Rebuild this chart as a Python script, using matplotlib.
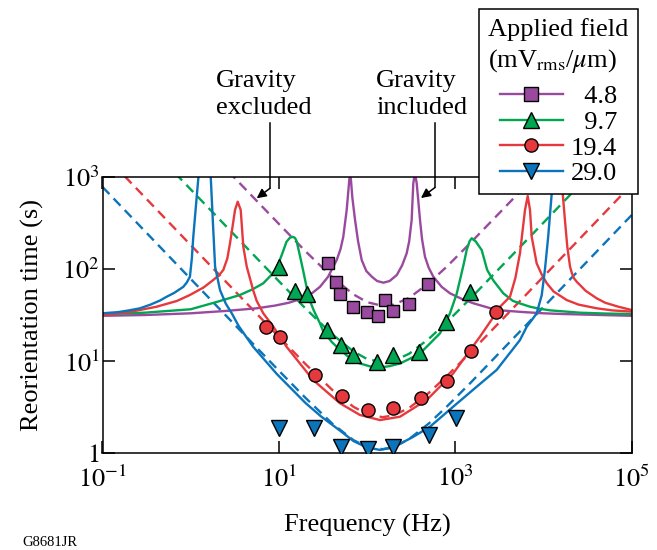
import matplotlib
matplotlib.use("Agg")
import matplotlib.pyplot as plt
from matplotlib.lines import Line2D
from matplotlib.ticker import NullLocator

plt.rcParams['font.family'] = ['Liberation Serif', 'DejaVu Serif']
plt.rcParams['mathtext.fontset'] = 'stix'

# ---- applied field series ----
fields = ["4.8", "9.7", "19.4", "29.0"]
colors = ["#9A4A9E", "#00A651", "#E6393D", "#0B74BB"]
markers = ["s", "^", "o", "v"]

# ---- measured reorientation times ----
sq_f = [35.7, 44.4, 49.3, 68.7, 98.9, 132, 161, 198, 296, 494]
sq_t = [115, 71.7, 53.1, 38.9, 33.8, 31.1, 46, 35.2, 41.6, 68.7]
tri_f = [10, 15.2, 20.6, 35.4, 50.6, 69.8, 128.5, 195, 387, 785, 1468]
tri_t = [106, 58.1, 53.1, 21.7, 15.0, 11.5, 9.68, 11.6, 12.6, 26.7, 56.6]
circ_f = [7.14, 10.3, 25.7, 52.4, 103, 195, 408, 798, 1496, 2891]
circ_t = [23.6, 18.1, 7.05, 4.2, 2.91, 3.1, 3.99, 6.06, 12.9, 34.1]
dtri_f = [10, 25.2, 50.6, 102, 198, 499, 1009]
dtri_t = [1.85, 1.88, 1.15, 1.10, 1.17, 1.57, 2.38]

# ---- model, gravity excluded (dashed) ----
dash_f = [0.1, 1, 10, 20, 40, 70, 100, 150, 200, 300, 500, 800, 1500, 1e4, 1e5]
blue_dash_t = [780, 78, 7.84, 3.98, 2.1, 1.38, 1.17, 1.10, 1.16, 1.42, 2.09, 3.19, 5.84, 38.6, 386]
red_dash_t = [1820, 182, 18.3, 9.27, 4.88, 3.18, 2.65, 2.45, 2.57, 3.09, 4.50, 6.85, 12.5, 82.8, 828]
green_dash_f = [0.5, 1, 10, 20, 40, 70, 100, 150, 200, 300, 500, 800, 1500, 1e4, 4e4]
green_dash_t = [1466, 733, 73.6, 37.3, 19.6, 12.7, 10.5, 9.67, 10.0, 12.0, 17.4, 26.4, 48.3, 319, 1276]
purple_dash_f = [2, 5, 10, 20, 40, 70, 100, 150, 200, 300, 500, 800, 1500, 5000, 1e4]
purple_dash_t = [1539, 616, 309, 156, 82, 53, 43.6, 39.7, 41, 48.6, 70.2, 106, 194, 640, 1280]

# ---- model, gravity included (solid) ----
purple_f = [0.1, 0.3, 1, 2.5, 5.6, 9, 13, 17.3, 24, 29.2, 36, 45.2, 50, 53.7, 58.7,
            62.8, 64.2, 65.6, 68, 73, 79, 86.9, 98, 113, 130, 153, 180, 217, 250, 281,
            300, 320, 334, 349, 365, 380, 398, 420, 453, 500, 563, 700, 871, 1200, 1600,
            2944, 4000, 6000, 10000, 16700, 40000, 1e5]
purple_t = [31, 31.6, 33, 35, 37.4, 40, 43, 47, 55, 64, 82, 125, 165, 224, 438,
            928, 1100, 928, 600, 341, 200, 125, 95, 82.5, 74, 71, 74, 86, 110, 148,
            200, 341, 855, 1100, 855, 560, 341, 210, 136, 103, 82.5, 64, 54.4, 47, 42.4,
            35.8, 35, 34, 33, 32.4, 31.7, 31]
green_f = [0.1, 0.3, 1, 2, 3.62, 5, 6.65, 8, 9.44, 11, 12.2, 13.3, 14.3, 15.2, 15.9,
           17.3, 18.8, 20.5, 22.5, 25, 29.2, 31.8, 40, 49.3, 60, 83, 110, 140, 180, 236,
           300, 398, 516, 671, 871, 1038, 1130, 1250, 1346, 1450, 1535, 1700, 1990,
           2300, 2700, 3500, 4500, 5500, 7030, 9000, 12000, 25900, 50000, 1e5]
green_t = [32.2, 33.5, 36.5, 44, 52.2, 60, 69.9, 84, 102, 150, 198, 218, 224, 218, 200,
           140, 97, 65, 45, 35, 25.7, 21, 16, 13.2, 11.3, 9.4, 8.7, 8.5, 8.8, 9.4,
           10.5, 12.1, 15.5, 20, 33, 54, 76, 115, 161, 200, 216, 200, 161,
           97.5, 75, 54.4, 45, 42, 38.9, 37, 35.5, 33.5, 32.8, 32.4]
red_f = [0.1, 0.2, 0.41, 0.7, 0.98, 1.4, 1.8, 2.1, 2.34, 2.6, 2.79, 3.0, 3.18, 3.41,
         3.69, 3.95, 4.32, 5.13, 5.6, 6.65, 8.65, 12.2, 24.5, 49.3, 83, 140, 236, 474,
         948, 1905, 2700, 3215, 4170, 4800, 5410, 6170, 6620, 7030, 7350, 8370, 9500,
         10900, 13000, 18300, 25000, 40100, 60000, 1e5]
red_t = [31.6, 34, 38.9, 45, 52.2, 63, 75.9, 86, 97.5, 130, 190, 300, 438, 539,
         438, 175, 106, 58, 45, 33, 23.6, 14.3, 6.2, 3.47, 2.59, 2.28, 2.48, 3.77,
         7.35, 18.4, 30, 38.9, 50, 80, 148, 438, 621, 438, 224, 115, 88,
         70, 57, 46, 41, 37.4, 35.5, 34.4]
red_hi_f = [15500, 16500, 17500, 18600, 20000, 21000, 22000, 24000, 25900, 30000,
            40100, 50000, 70000, 1e5]
red_hi_t = [1500, 665, 341, 175, 106, 90, 80, 72, 67, 58, 48, 43, 39, 35.8]
blue_f = [0.1, 0.15, 0.2, 0.266, 0.35, 0.45, 0.535, 0.65, 0.824, 0.9, 0.98, 1.03, 1.07,
          1.17, 1.22, 1.45, 1.69, 1.78, 1.89, 2.15, 2.5, 2.92, 3.5, 5.1, 9.5, 20, 30,
          49.3, 70, 98.9, 140, 198, 334, 516, 948, 1750, 2944, 5410, 6460, 7400, 8370,
          9550, 10400, 11300, 12400, 12800, 13500]
blue_t = [33, 34, 35.5, 37.4, 41, 45.5, 50, 55, 64, 71, 82.5, 130, 224,
          611, 968, 3000, 968, 341, 106, 59, 42, 33, 24, 14.3, 7.2, 3.5, 2.5,
          1.75, 1.35, 1.15, 1.08, 1.15, 1.5, 1.93, 3.19, 5.26, 8, 16.9, 23.6, 28, 33,
          52, 100, 224, 665, 1000, 3000]

fig = plt.figure(figsize=(6.57, 5.5), dpi=100)
ax = fig.add_axes([102.5 / 657, 1 - 453 / 550, (631.7 - 102.5) / 657, (453 - 177) / 550])
ax.set_xscale('log')
ax.set_yscale('log')
ax.set_xlim(0.1, 1e5)
ax.set_ylim(1, 1000)

lw = 1.7
dash = (4.2, 2.6)
cp, cg, cr, cb = colors

# dashed: gravity excluded
ax.plot(dash_f, blue_dash_t, color=cb, lw=lw, dashes=dash)
ax.plot(dash_f, red_dash_t, color=cr, lw=lw, dashes=dash)
ax.plot(green_dash_f, green_dash_t, color=cg, lw=lw, dashes=dash)
ax.plot(purple_dash_f, purple_dash_t, color=cp, lw=lw, dashes=dash)

# solid: gravity included
ax.plot(purple_f, purple_t, color=cp, lw=lw)
ax.plot(green_f, green_t, color=cg, lw=lw)
ax.plot(red_f, red_t, color=cr, lw=lw)
ax.plot(red_hi_f, red_hi_t, color=cr, lw=lw)
ax.plot(blue_f, blue_t, color=cb, lw=lw)

# measurements
mk = dict(ls='none', mec='black', mew=1.0, zorder=5)
ax.plot(sq_f, sq_t, marker='s', ms=9, mfc=cp, **mk)
ax.plot(tri_f, tri_t, marker='^', ms=11, mfc=cg, **mk)
ax.plot(circ_f, circ_t, marker='o', ms=9.5, mfc=cr, **mk)
ax.plot(dtri_f, dtri_t, marker='v', ms=11, mfc=cb, **mk)

# axes styling
for s in ax.spines.values():
    s.set_linewidth(1.1)
ax.set_xticks([0.1, 10, 1e3, 1e5])
ax.set_xticklabels([r'$10^{-1}$', r'$10^{1}$', r'$10^{3}$', r'$10^{5}$'])
ax.set_yticks([1, 10, 100, 1000])
ax.set_yticklabels([r'$1\ \,$', r'$10^{1}$', r'$10^{2}$', r'$10^{3}$'])
ax.xaxis.set_minor_locator(NullLocator())
ax.yaxis.set_minor_locator(NullLocator())
ax.tick_params(which='major', direction='in', length=8.5, width=1.1,
               top=True, right=True, labelsize=19)
ax.tick_params(axis='x', pad=9)
ax.tick_params(axis='y', pad=2)
ax.set_xlabel('Frequency (Hz)', fontsize=19, labelpad=16)
ax.set_ylabel('Reorientation time (s)', fontsize=19, labelpad=13)

# annotations
ax.plot([7.93, 7.93], [3865, 754], color='black', lw=1.1, clip_on=False)
ax.annotate('', xy=(5.6, 587), xytext=(7.93, 754), annotation_clip=False,
            arrowprops=dict(arrowstyle='-|>', color='black', lw=1.1,
                            mutation_scale=14, shrinkA=0, shrinkB=0))
ax.plot([589, 589], [3865, 769], color='black', lw=1.1, clip_on=False)
ax.annotate('', xy=(408, 591), xytext=(589, 769), annotation_clip=False,
            arrowprops=dict(arrowstyle='-|>', color='black', lw=1.1,
                            mutation_scale=14, shrinkA=0, shrinkB=0))
fig.text(216 / 657, 1 - 70 / 550, 'Gravity\nexcluded', fontsize=19,
         ha='left', va='top', linespacing=1.3)
fig.text(376 / 657, 1 - 70 / 550, 'Gravity\nincluded', fontsize=19,
         ha='left', va='top', linespacing=1.3)
fig.text(22 / 657, 1 - 549 / 550, 'G8681JR', fontsize=10.5, ha='left', va='bottom')

# legend
handles = [Line2D([], [], color=c, lw=lw, marker=m, mfc=c, mec='black', mew=1.0,
                  ms=(11 if m in '^v' else 9.5)) for c, m in zip(colors, markers)]
labels = ['\u2007' + f if len(f) < 4 else f for f in fields]
leg = ax.legend(handles, labels, title='Applied field\n(mV$_{\\mathrm{rms}}$/$\\mu$m)',
                loc='upper right', bbox_to_anchor=(638 / 657, 1 - 9 / 550),
                bbox_transform=fig.transFigure, borderaxespad=0, fontsize=19,
                title_fontsize=19, handlelength=2.4, handletextpad=0.3,
                labelspacing=0.08, borderpad=0.35, fancybox=False, framealpha=1,
                edgecolor='black')
leg.get_frame().set_linewidth(1.1)
leg.get_title().set_linespacing(1.3)
leg._legend_box.sep = 7  # gap between title block and entries
leg.set_zorder(10)

fig.savefig('out.png', dpi=100)
